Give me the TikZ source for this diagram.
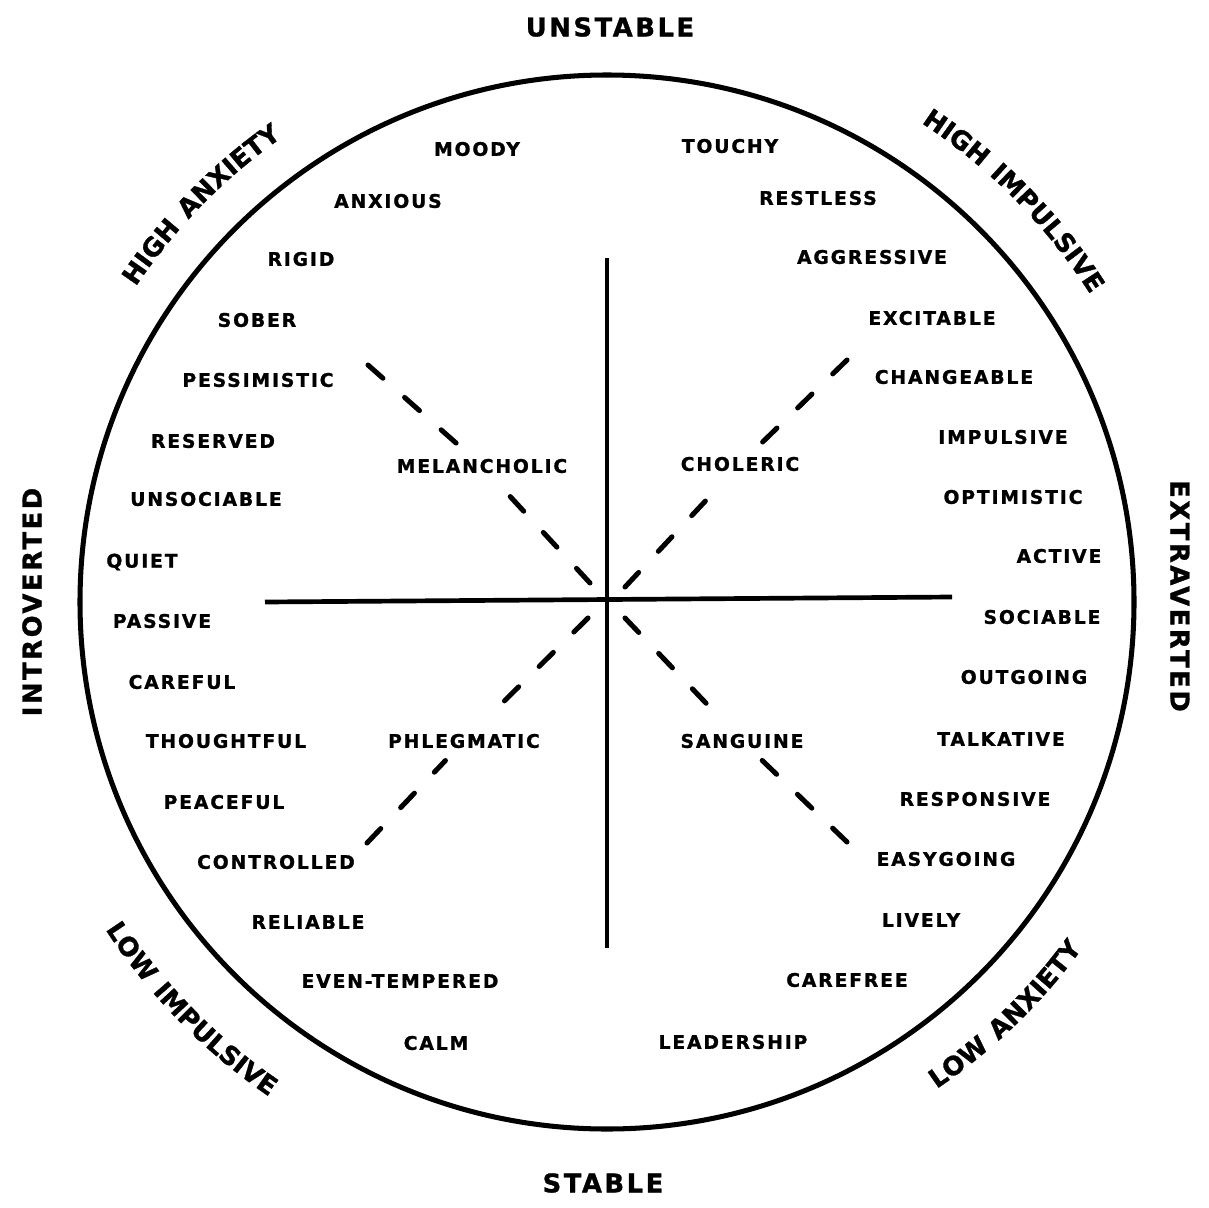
\documentclass[tikz,border=0pt]{standalone}
\usepackage{fontspec}
\usetikzlibrary{calc,decorations.text}
\newfontfamily\traitfont{DejaVu Sans}[LetterSpace=10,BoldFeatures={FakeBold=1.2}]
\newcommand\polestyle{\traitfont\bfseries\fontsize{22}{25}\selectfont}
\begin{document}
\begin{tikzpicture}[x=0.03cm,y=-0.03cm]
	\tikzstyle{every node}=[font=\traitfont\bfseries\fontsize{16}{18}\selectfont, inner sep=2pt]
	\tikzstyle{pole}=[font=\polestyle]
	\tikzstyle{temper}=[outer sep=5pt]
	\tikzstyle{rim}=[line width=4.3pt]
	\tikzstyle{axis}=[line width=4pt]
	\tikzstyle{typeline}=[line width=4.3pt, line cap=round, dash pattern=on 17pt off 24.7pt, shorten >=5pt]
	\useasboundingbox (0,0) rectangle (1209,1207);
	\coordinate (hub) at (607,602);
	\coordinate (upTip) at (607,258);
	\coordinate (downTip) at (607,948);
	\coordinate (leftTip) at (265,602);
	\coordinate (rightTip) at (952,597);
	\coordinate (nwOut) at (368,365);
	\coordinate (nwIn) at (590,583);
	\coordinate (neOut) at (847,360);
	\coordinate (neIn) at (625,587);
	\coordinate (swOut) at (367,843);
	\coordinate (swIn) at (588,618);
	\coordinate (seOut) at (847,842);
	\coordinate (seIn) at (625,618);
	\draw [rim] (hub) circle [radius=527];
	\draw [axis] (upTip) -- (downTip);
	\draw [axis] (leftTip) -- (rightTip);
	\node [temper] (melancholic) at (482,466) {MELANCHOLIC};
	\node [temper] (choleric) at (740,464) {CHOLERIC};
	\node [temper] (phlegmatic) at (464,741) {PHLEGMATIC};
	\node [temper] (sanguine) at (742,741) {SANGUINE};
	\draw [typeline] (nwOut) -- (melancholic);
	\draw [typeline] (nwIn) -- (melancholic);
	\draw [typeline] (neOut) -- (choleric);
	\draw [typeline] (neIn) -- (choleric);
	\draw [typeline] (swOut) -- (phlegmatic);
	\draw [typeline, shorten >=10pt] (swIn) -- (phlegmatic);
	\draw [typeline] (seOut) -- (sanguine);
	\draw [typeline] (seIn) -- (sanguine);
	\node (moody) at (477,149) {MOODY};
	\node (anxious) at (388,201) {ANXIOUS};
	\node (rigid) at (301,259) {RIGID};
	\node (sober) at (257,320) {SOBER};
	\node (pessimistic) at (258,380) {PESSIMISTIC};
	\node (reserved) at (213,441) {RESERVED};
	\node (unsociable) at (206,499) {UNSOCIABLE};
	\node (quiet) at (142,562) {QUIET};
	\node (passive) at (162,621) {PASSIVE};
	\node (careful) at (182,682) {CAREFUL};
	\node (thoughtful) at (226,741) {THOUGHTFUL};
	\node (peaceful) at (224,802) {PEACEFUL};
	\node (controlled) at (276,862) {CONTROLLED};
	\node (reliable) at (308,922) {RELIABLE};
	\node (eventempered) at (400,981) {EVEN-TEMPERED};
	\node (calm) at (436,1043) {CALM};
	\node (touchy) at (730,146) {TOUCHY};
	\node (restless) at (818,198) {RESTLESS};
	\node (aggressive) at (872,257) {AGGRESSIVE};
	\node (excitable) at (932,318) {EXCITABLE};
	\node (changeable) at (954,377) {CHANGEABLE};
	\node (impulsive) at (1003,437) {IMPULSIVE};
	\node (optimistic) at (1013,497) {OPTIMISTIC};
	\node (active) at (1059,556) {ACTIVE};
	\node (sociable) at (1042,617) {SOCIABLE};
	\node (outgoing) at (1024,677) {OUTGOING};
	\node (talkative) at (1001,739) {TALKATIVE};
	\node (responsive) at (975,799) {RESPONSIVE};
	\node (easygoing) at (946,859) {EASYGOING};
	\node (lively) at (921,920) {LIVELY};
	\node (carefree) at (847,980) {CAREFREE};
	\node (leadership) at (733,1042) {LEADERSHIP};
	\node [pole] (unstable) at (610,27) {UNSTABLE};
	\node [pole] (stable) at (603,1183) {STABLE};
	\node [pole, rotate=90] (introverted) at (32,602) {INTROVERTED};
	\node [pole, rotate=-90] (extraverted) at (1180,596) {EXTRAVERTED};
	\path [decorate, decoration={text along path, text align=center, text={|\polestyle|HIGH ANXIETY}}]
		($(hub)+(-155.6:567)$) arc [start angle=-155.6, end angle=-115.6, radius=567];
	\path [decorate, decoration={text along path, text align=center, text={|\polestyle|HIGH IMPULSIVE}}]
		($(hub)+(-64.6:573)$) arc [start angle=-64.6, end angle=-24.6, radius=573];
	\path [decorate, decoration={text along path, text align=center, text={|\polestyle|LOW IMPULSIVE}}]
		($(hub)+(155.6:599)$) arc [start angle=155.6, end angle=115.6, radius=599];
	\path [decorate, decoration={text along path, text align=center, text={|\polestyle|LOW ANXIETY}}]
		($(hub)+(66:588)$) arc [start angle=66, end angle=26, radius=588];
\end{tikzpicture}
\end{document}
